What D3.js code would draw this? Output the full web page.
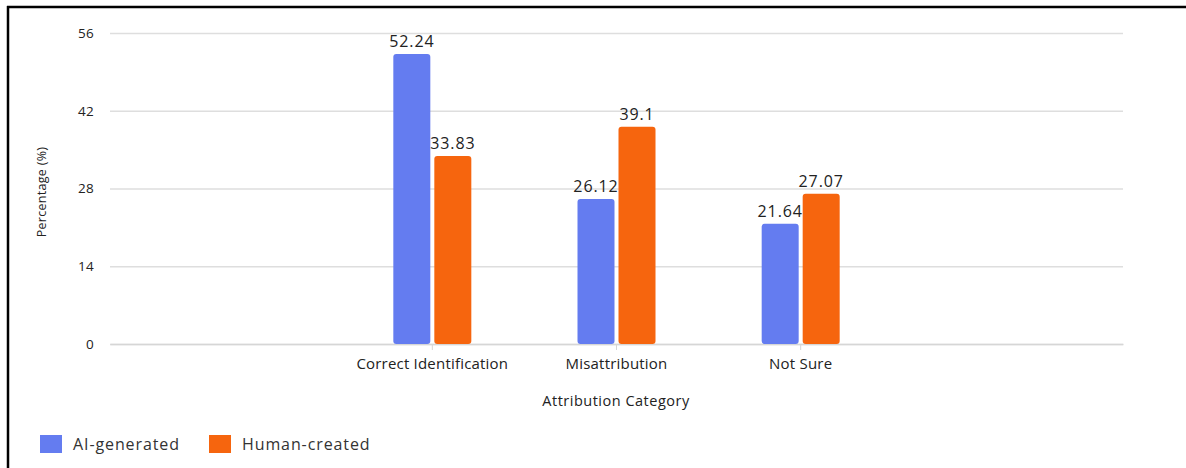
<!DOCTYPE html>
<html>
<head>
<meta charset="utf-8">
<script src="https://cdn.jsdelivr.net/npm/d3@7"></script>
<style>
  body { margin: 0; background: #fff; }
  text { font-family: "Open Sans", sans-serif; fill: #222; font-weight: 500; }
</style>
</head>
<body>
<div id="chart"></div>
<script>
// DATA
const categories = ["Correct Identification", "Misattribution", "Not Sure"];
const seriesNames = ["AI-generated", "Human-created"];
const aiValues = [52.24, 26.12, 21.64];
const humanValues = [33.83, 39.1, 27.07];
const yTicks = [0, 14, 28, 42, 56];

const colors = ["#647cf0", "#f6650e"];

const w = 1186;
const h = 468;

// BUILD ROWS FOR THE BARS
const rows = categories.map((c, i) => ({ cat: c, values: [aiValues[i], humanValues[i]] }));

const svg = d3.select("#chart")
  .append("svg")
  .attr("width", w)
  .attr("height", h);

// FRAME (top and left border of the screenshot)
svg.append("line").attr("x1", 7).attr("x2", w).attr("y1", 7).attr("y2", 7)
  .attr("stroke", "#000").attr("stroke-width", 2.5);
svg.append("line").attr("x1", 8).attr("x2", 8).attr("y1", 6).attr("y2", h)
  .attr("stroke", "#000").attr("stroke-width", 2.5);

// SCALES
const left = 110, right = 1123;
const xScale = d3.scaleBand()
  .domain(categories)
  .range([left, right])
  .paddingInner(0)
  .paddingOuter(1.25);

const yScale = d3.scaleLinear()
  .domain([0, 56])
  .range([344, 33]);

const barW = 37, gap = 4;
const xSub = d3.scaleBand()
  .domain(seriesNames)
  .range([-(barW + gap / 2), barW + gap / 2])
  .paddingInner(gap / (barW + gap))
  .paddingOuter(0);

// GRID
const grid = svg.append("g")
  .attr("transform", "translate(" + left + ",0)")
  .call(d3.axisLeft(yScale).tickValues(yTicks).tickSize(-(right - left)).tickFormat(d => d));
grid.select(".domain").remove();
grid.selectAll(".tick line").attr("stroke", "#dedede").attr("stroke-width", 1.5);
grid.selectAll(".tick text")
  .attr("x", -16)
  .style("font-size", "13.5px")
  .style("font-family", "Open Sans, sans-serif")
  .style("font-weight", "500")
  .style("letter-spacing", "0.3px")
  .attr("fill", "#222");

// X AXIS
const xAxis = svg.append("g")
  .attr("transform", "translate(0,344)")
  .call(d3.axisBottom(xScale).tickSize(6).tickSizeOuter(0).tickPadding(8));
xAxis.select(".domain").attr("stroke", "#d6d6d6").attr("stroke-width", 1.5);
xAxis.selectAll(".tick line").attr("stroke", "#d6d6d6");
xAxis.selectAll(".tick text")
  .style("font-size", "15px")
  .style("font-family", "Open Sans, sans-serif")
  .style("font-weight", "500")
  .style("letter-spacing", "0.2px")
  .attr("fill", "#222");

// BARS
const groups = svg.selectAll(".grp")
  .data(rows)
  .enter()
  .append("g")
  .attr("class", "grp")
  .attr("transform", d => "translate(" + (xScale(d.cat) + xScale.bandwidth() / 2) + ",0)");

groups.selectAll("rect")
  .data(d => d.values.map((v, i) => ({ name: seriesNames[i], v: v, i: i })))
  .enter()
  .append("rect")
  .attr("x", d => xSub(d.name))
  .attr("width", xSub.bandwidth())
  .attr("y", d => yScale(d.v))
  .attr("height", d => yScale(0) - yScale(d.v))
  .attr("rx", 3)
  .attr("fill", d => colors[d.i]);

groups.selectAll(".val")
  .data(d => d.values.map((v, i) => ({ name: seriesNames[i], v: v, i: i })))
  .enter()
  .append("text")
  .attr("class", "val")
  .attr("x", d => xSub(d.name) + xSub.bandwidth() / 2)
  .attr("y", d => yScale(d.v) - 7)
  .attr("text-anchor", "middle")
  .style("font-size", "16px")
  .style("letter-spacing", "0.9px")
  .text(d => d.v);

// AXIS TITLES
svg.append("text")
  .attr("transform", "translate(46,192) rotate(-90)")
  .attr("text-anchor", "middle")
  .style("font-size", "12.5px")
  .style("letter-spacing", "0.3px")
  .text("Percentage (%)");

svg.append("text")
  .attr("x", 616)
  .attr("y", 406)
  .attr("text-anchor", "middle")
  .style("font-size", "14.5px")
  .style("letter-spacing", "0.5px")
  .text("Attribution Category");

// LEGEND
const legendX = [40, 209];
const legend = svg.selectAll(".leg")
  .data(seriesNames)
  .enter()
  .append("g")
  .attr("class", "leg")
  .attr("transform", (d, i) => "translate(" + legendX[i] + ",435)");

legend.append("rect")
  .attr("width", 22)
  .attr("height", 18)
  .attr("fill", (d, i) => colors[i]);

legend.append("text")
  .attr("x", 33)
  .attr("y", 15)
  .style("font-size", "16px")
  .style("letter-spacing", "0.9px")
  .style("fill", "#333")
  .text(d => d);
</script>
</body>
</html>
